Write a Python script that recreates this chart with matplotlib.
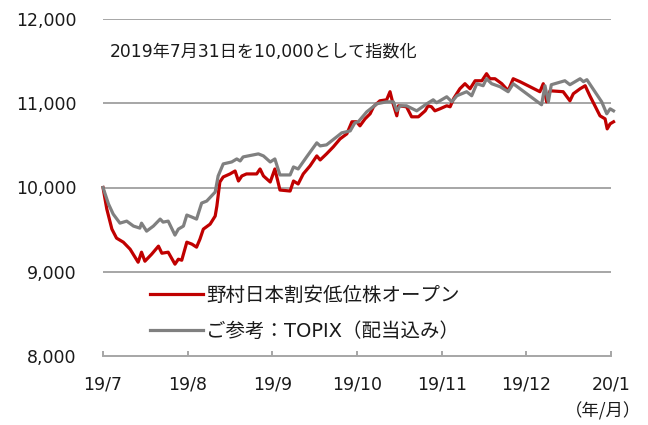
import matplotlib
matplotlib.use("Agg")
import matplotlib.pyplot as plt

plt.rcParams['font.family'] = ['DejaVu Sans', 'Noto Sans CJK JP']

# trading-day positions (20 per month, 0 = 2019/7/31)
fund_x = [0, 0.9, 2.1, 3.2, 4.8, 6.4, 8.3, 9.1, 9.9, 11.5, 13.1, 13.9, 15.4, 17.0, 17.8,
          18.6, 19.8, 21.0, 22.1, 22.9, 23.7, 25.3, 26.5, 26.9, 27.6, 28.4, 30.0, 31.2,
          32.0, 32.8, 33.9, 36.3, 37.1, 37.9, 39.5, 40.6, 41.8, 44.2, 45.0, 46.1, 47.3,
          48.9, 50.5, 51.3, 52.8, 54.4, 56.0, 57.6, 58.8, 59.9, 60.7, 61.9, 63.1, 63.9,
          65.4, 67.0, 67.8, 68.4, 69.4, 69.8, 71.7, 72.9, 74.5, 76.1, 76.8, 77.6, 78.4,
          79.6, 81.2, 82.0, 82.8, 84.3, 85.5, 86.7, 87.9, 89.5, 90.6, 91.4, 92.6, 94.2,
          95.7, 96.9, 98.5, 103.2, 104.0, 104.8, 105.6, 108.7, 110.3, 111.1, 112.7,
          113.9, 115.0, 116.2, 117.4, 118.6, 119.1, 119.8, 120.6]
fund_v = [10000, 9744, 9506, 9399, 9351, 9268, 9113, 9232, 9125, 9209, 9304, 9220, 9232,
          9090, 9149, 9137, 9351, 9328, 9292, 9387, 9506, 9565, 9661, 9780, 10065, 10125,
          10161, 10196, 10077, 10137, 10161, 10161, 10220, 10137, 10065, 10220, 9970, 9958,
          10077, 10042, 10161, 10256, 10375, 10327, 10399, 10482, 10577, 10637, 10780,
          10780, 10732, 10815, 10875, 10958, 11029, 11041, 11137, 11017, 10851, 10970,
          10958, 10839, 10839, 10910, 10970, 10958, 10910, 10934, 10970, 10958, 11053,
          11172, 11232, 11172, 11267, 11267, 11351, 11291, 11291, 11232, 11148, 11291,
          11256, 11137, 11232, 11017, 11148, 11137, 11029, 11113, 11172, 11208, 11089,
          10970, 10851, 10815, 10696, 10756, 10780]

topix_x = [0, 1.3, 2.4, 4.0, 5.6, 7.2, 8.7, 9.1, 10.3, 11.9, 13.5, 14.2, 15.4, 17.0, 17.8,
           19.0, 19.8, 21.0, 22.1, 23.3, 24.5, 26.5, 27.2, 28.4, 30.4, 31.6, 32.4, 33.1,
           35.5, 36.7, 37.9, 39.5, 40.6, 41.8, 44.2, 45.0, 46.1, 48.1, 50.5, 51.3, 52.8,
           55.2, 56.4, 58.4, 59.5, 60.3, 62.3, 64.7, 67.0, 68.6, 69.4, 70.2, 71.7, 74.1,
           76.5, 78.0, 78.8, 81.2, 82.4, 83.6, 85.9, 87.1, 88.3, 89.8, 90.6, 91.8, 93.8,
           95.7, 96.9, 103.6, 104.4, 105.2, 105.9, 109.1, 110.3, 112.7, 113.5, 114.3,
           116.2, 117.8, 119.0, 119.8, 120.6]
topix_v = [10000, 9804, 9685, 9577, 9601, 9542, 9518, 9577, 9482, 9542, 9625, 9589, 9601,
           9435, 9506, 9542, 9673, 9649, 9625, 9815, 9839, 9946, 10137, 10280, 10303,
           10339, 10315, 10363, 10387, 10399, 10375, 10303, 10339, 10149, 10149, 10244,
           10220, 10363, 10530, 10494, 10506, 10601, 10649, 10672, 10768, 10780, 10898,
           10994, 11017, 11017, 10910, 10970, 10970, 10910, 10994, 11041, 11006, 11077,
           11017, 11089, 11137, 11089, 11232, 11208, 11291, 11232, 11196, 11137, 11232,
           10982, 11208, 11017, 11220, 11267, 11220, 11291, 11256, 11280, 11137, 11017,
           10875, 10934, 10910]

tick_pos = [0, 20, 40, 60, 80, 100, 120]
tick_labels = ['19/7', '19/8', '19/9', '19/10', '19/11', '19/12', '20/1']
y_ticks = [8000, 9000, 10000, 11000, 12000]

fund_name = '野村日本割安低位株オープン'
topix_name = 'ご参考：TOPIX（配当込み）'
note = '2019年7月31日を10,000として指数化'
unit = '（年/月）'

RED = '#C00000'
GRAY = '#808080'
GRID = '#A6A6A6'

fig = plt.figure(figsize=(6.48, 4.25), dpi=100)
W, H = 648, 425
ax = fig.add_axes([103 / W, 1 - 356 / H, 508 / W, (356 - 19) / H])
ax.set_xlim(0, 120)
ax.set_ylim(8000, 12000)

for v in y_ticks[1:]:
    ax.axhline(v, color=GRID, lw=1.4, zorder=1)

l1, = ax.plot(fund_x, fund_v, color=RED, lw=2.3, zorder=3, clip_on=False,
              solid_joinstyle='round')
l2, = ax.plot(topix_x, topix_v, color=GRAY, lw=2.3, zorder=4, clip_on=False,
              solid_joinstyle='round')

for s in ['top', 'right', 'left']:
    ax.spines[s].set_visible(False)
ax.spines['bottom'].set_color(GRID)
ax.spines['bottom'].set_linewidth(1.4)

ax.set_yticks(y_ticks)
ax.set_yticklabels([f'{v:,}' for v in y_ticks])
ax.tick_params(axis='y', length=0, pad=19, labelsize=12.5, labelcolor='#1a1a1a')
ax.set_xticks(tick_pos)
ax.set_xticklabels(tick_labels)
ax.tick_params(axis='x', direction='in', length=3.5, width=1.4, color=GRID,
               pad=14, labelsize=12.5, labelcolor='#1a1a1a')

fig.text(110 / W, 1 - 52 / H, note, fontsize=12.3, va='center', ha='left',
         color='#1a1a1a')
fig.text(641 / W, 1 - 411 / H, unit, fontsize=12.5, va='center', ha='right',
         color='#1a1a1a', family=['Noto Sans CJK JP', 'DejaVu Sans'])

leg = fig.legend([l1, l2], [fund_name, topix_name], loc='upper left',
                 bbox_to_anchor=(150 / W, 1 - 286 / H), frameon=False,
                 fontsize=14, handlelength=2.75, handletextpad=0.15,
                 labelspacing=0.85, borderpad=0, borderaxespad=0)
for t in leg.get_texts():
    t.set_color('#1a1a1a')

fig.savefig('out.png', dpi=100)
